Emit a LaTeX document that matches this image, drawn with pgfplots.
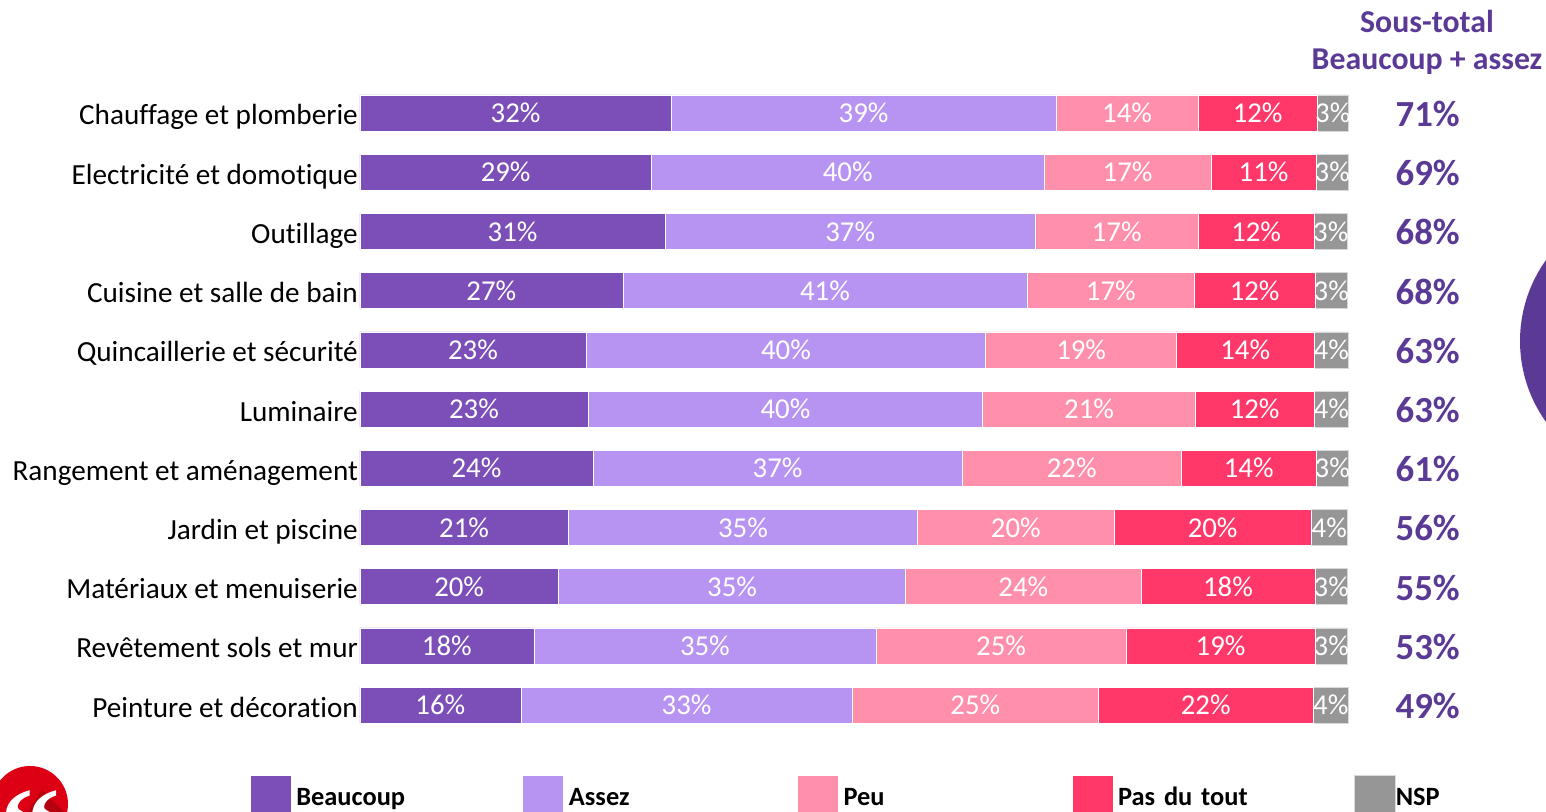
\documentclass[border=0pt]{standalone}
\usepackage{fontspec}
\setmainfont{Carlito}[Ligatures=NoCommon]
\usepackage{pgfplots}
\usepackage{pgfplotstable}
\pgfplotsset{compat=1.18}
\definecolor{cB}{HTML}{7B4FB7}
\definecolor{cA}{HTML}{B794F2}
\definecolor{cP}{HTML}{FF8FAB}
\definecolor{cT}{HTML}{FF3869}
\definecolor{cN}{HTML}{969696}
\definecolor{cH}{HTML}{5B3A96}
\definecolor{cL}{HTML}{DD0014}
\definecolor{cS}{HTML}{B5000F}
\pgfplotstableread{
y b a p t n lb la lp lt ln
0 31.5 38.9 14.4 12.0 3.2 32 39 14 12 3
1 29.5 39.7 16.9 10.6 3.3 29 40 17 11 3
2 30.9 37.4 16.5 11.7 3.4 31 37 17 12 3
3 26.6 40.9 16.9 12.2 3.3 27 41 17 12 3
4 22.9 40.4 19.3 13.9 3.5 23 40 19 14 4
5 23.1 39.9 21.5 12.0 3.5 23 40 21 12 4
6 23.6 37.3 22.2 13.6 3.3 24 37 22 14 3
7 21.1 35.3 19.9 19.9 3.7 21 35 20 20 4
8 20.1 35.1 23.8 17.6 3.3 20 35 24 18 3
9 17.6 34.6 25.3 19.1 3.3 18 35 25 19 3
10 16.3 33.5 24.9 21.7 3.6 16 33 25 22 4
}\rows
\pgfplotstableread{
y x s
0 108.0 71
1 108.0 69
2 108.0 68
3 108.0 68
4 108.0 63
5 108.0 63
6 108.0 61
7 108.0 56
8 108.0 55
9 108.0 53
10 108.0 49
}\totals
\newcommand{\fs}[1]{\fontsize{#1}{#1}\selectfont}
\begin{document}
\begin{tikzpicture}[x=1pt,y=1pt]
\path[use as bounding box] (0,0) rectangle (773,406);
\begin{scope}
\clip (0,0) rectangle (773,406);
\fill[cH] (829.5,235.5) circle[radius=69.5];
\fill[white] (15,4) circle[radius=20];
\fill[cL] (15,4) circle[radius=19];
\begin{scope}
\clip (15,4) circle[radius=19];
\fill[cS] (21,11) -- (38,-6) -- (10,-6) -- cycle;
\end{scope}
\node[text=white,font=\fontspec{Liberation Serif Bold}\fs{60},inner sep=0pt] at (15,-9.5) {“};
\end{scope}
\begin{axis}[
  at={(179.9pt,38.7pt)}, anchor=south west,
  width=494.4pt, height=325.6pt, scale only axis,
  xbar stacked, bar width=18pt, bar shift=0pt,
  xmin=0, xmax=100, ymin=-0.5, ymax=10.5, y dir=reverse,
  axis line style={draw=none},
  xtick=\empty,
  ytick={0,...,10},
  yticklabels={Chauffage et plomberie,Electricité et domotique,Outillage,Cuisine et salle de bain,Quincaillerie et sécurité,Luminaire,Rangement et aménagement,Jardin et piscine,Matériaux et menuiserie,Revêtement sols et mur,Peinture et décoration},
  major tick length=0pt,
  yticklabel style={font=\fs{14.6},text=black,inner sep=0pt,xshift=-0.8pt,text height=14pt,text depth=2pt},
  point meta=explicit symbolic,
  nodes near coords={\pgfplotspointmeta\%},
  every node near coord/.append style={text=white,font=\fs{14.4},inner sep=0pt},
  clip=false,
  legend columns=5,
  legend style={at={(-0.1113,-0.128)},anchor=south west,draw=none,fill=none,inner sep=0pt,outer sep=0pt,
    /tikz/every even column/.style={column sep=0pt},
    nodes={inner sep=0pt,font=\bfseries\fs{13.2},text=black,anchor=base west,align=left}},
  legend cell align=left,
  legend image code/.code={\fill[#1] (0pt,-6pt) rectangle (20.5pt,15pt);},
]
\addplot[fill=cB,draw=white,line width=0.3pt] table[x=b,y=y,meta=lb] {\rows};
\addlegendentry[text width=115.5pt]{\hspace{2.5pt}Beaucoup}
\addplot[fill=cA,draw=white,line width=0.3pt] table[x=a,y=y,meta=la] {\rows};
\addlegendentry[text width=116.5pt]{\hspace{2.5pt}Assez}
\addplot[fill=cP,draw=white,line width=0.3pt] table[x=p,y=y,meta=lp] {\rows};
\addlegendentry[text width=116.5pt]{\hspace{2.5pt}Peu}
\addplot[fill=cT,draw=white,line width=0.3pt] table[x=t,y=y,meta=lt] {\rows};
\addlegendentry[text width=120.5pt]{\hspace{2.5pt}Pas du tout}
\addplot[fill=cN,draw=white!85!black,line width=0.3pt] table[x=n,y=y,meta=ln] {\rows};
\addlegendentry[text width=40pt]{\hspace{0pt}NSP}
\end{axis}
\begin{axis}[
  at={(179.9pt,38.7pt)}, anchor=south west,
  width=494.4pt, height=325.6pt, scale only axis,
  xmin=0, xmax=100, ymin=-0.5, ymax=10.5, y dir=reverse,
  hide axis, clip=false,
  point meta=explicit symbolic,
]
\addplot[only marks,mark=none,draw=none,
  nodes near coords={\pgfplotspointmeta\%},
  every node near coord/.append style={anchor=center,text=cH,font=\bfseries\fs{18.4},inner sep=0pt,yshift=-0.5pt}]
  table[x=x,y=y,meta=s] {\totals};
\end{axis}
\node[align=center,text=cH,font=\bfseries\fs{15.9},inner sep=0pt] at (713.5,395.5) {Sous-total};
\node[align=center,text=cH,font=\bfseries\fs{15.9},inner sep=0pt] at (713.5,375) {Beaucoup + assez};
\end{tikzpicture}
\end{document}
